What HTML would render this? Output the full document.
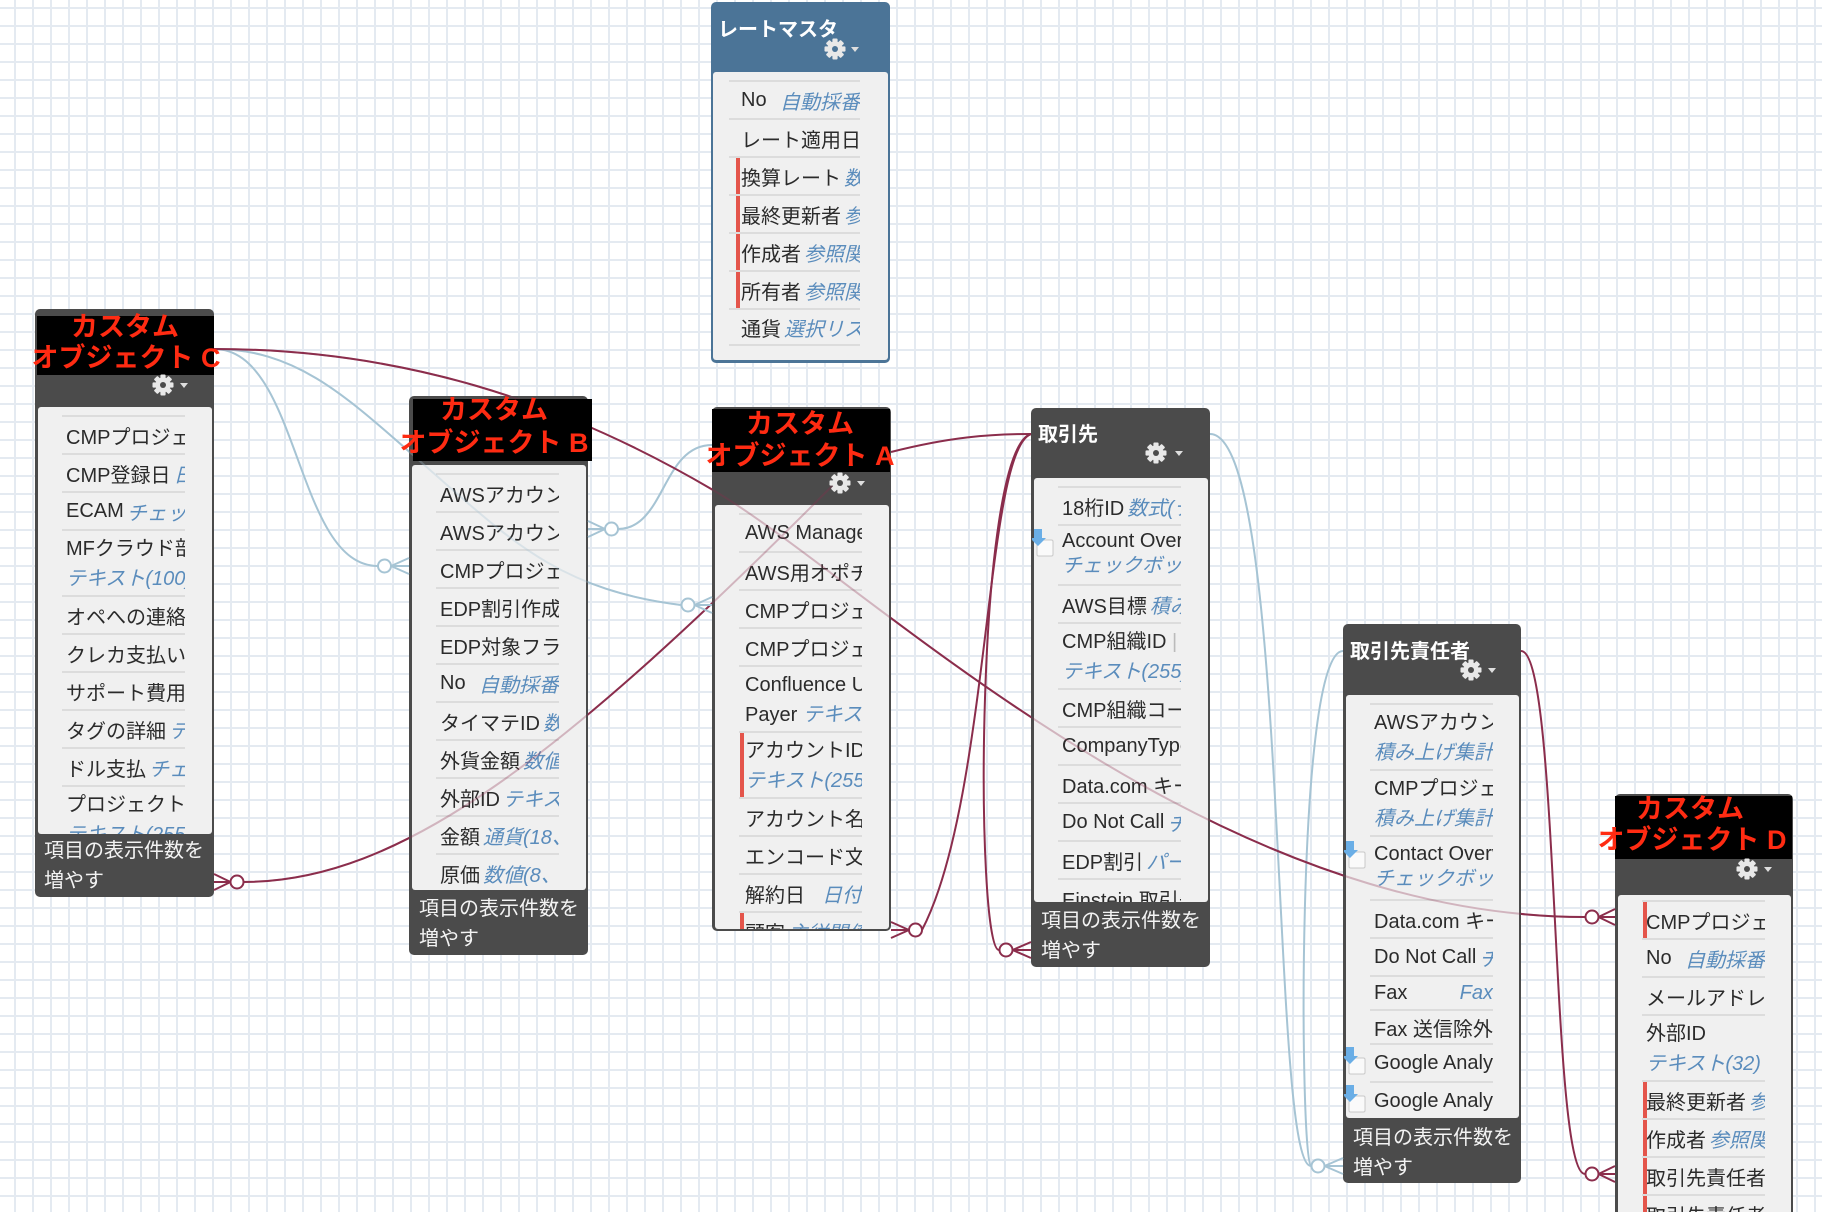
<!DOCTYPE html>
<html><head><meta charset="utf-8">
<style>
*{margin:0;padding:0;box-sizing:border-box}
html,body{width:1822px;height:1212px;overflow:hidden}
body{position:relative;font-family:"Liberation Sans","Noto Sans CJK JP",sans-serif;
background-color:#fff;
background-image:linear-gradient(to right,#e4eaf1 2px,transparent 2px),linear-gradient(to bottom,#e4eaf1 2px,transparent 2px);
background-size:18px 18px;background-position:14px 7px;}
svg.l{position:absolute;left:0;top:0;width:1822px;height:1212px}
.box{position:absolute;background:#4b4b4b;border-radius:5px;overflow:hidden;z-index:2}
.bd{position:absolute;left:3px;right:2px;background:#f0f0f0;border-radius:3px;overflow:hidden}
.rows{position:absolute;left:24px;top:8px;width:123px}
.r{position:relative;height:38px;border-top:2px solid #dcdcdc;display:flex;align-items:center;padding-left:4px;white-space:nowrap;overflow:hidden;font-size:20px;color:#2b2b2b}
.r .n{flex-shrink:0}
.r .t{margin-left:auto;padding-left:3px;flex-shrink:0}
.t{color:#5a8cbc;font-style:italic}
.r2{position:relative;height:66px;border-top:2px solid #dcdcdc;padding:3px 0 0 4px;white-space:nowrap;overflow:hidden;font-size:20px;line-height:30px;color:#2b2b2b}
.r3{position:relative;height:60px;border-top:2px solid #dcdcdc;padding:3px 0 0 4px;white-space:nowrap;overflow:hidden;font-size:20px;line-height:25px;color:#2b2b2b}
.r2 div,.r3 div{overflow:hidden}
.red::before{content:"";position:absolute;left:1px;top:0;bottom:0;width:4px;background:#e4554b}
.rm .red::before{left:7px}
.last{border-bottom:2px solid #dcdcdc}
.ft{position:absolute;left:0;right:0;color:#f3f3f3;font-size:20px;line-height:30px;padding-left:9px;white-space:nowrap}
.ttl{position:absolute;left:7px;color:#fff;font-weight:bold;font-size:20px;line-height:24px;white-space:nowrap}
.tri{position:absolute;width:0;height:0;border-left:4px solid transparent;border-right:4px solid transparent;border-top:5px solid #dedede;z-index:6}
.blk{position:absolute;background:#000;z-index:4}
.rt{position:absolute;color:#ff2b12;font-family:"Liberation Sans","Noto Sans CJK JP",sans-serif;font-weight:bold;font-size:27px;line-height:31px;text-align:center;white-space:nowrap;z-index:5}
.ico{position:absolute;z-index:6}
.A .r,.A .r2{padding-left:6px}
</style></head><body>

<svg class="l" style="z-index:1" viewBox="0 0 1822 1212" fill="none" stroke-width="2">
<g stroke="#a6c4d4">
<path d="M214,349 C300,349 295,566 378,566"/>
<path d="M214,349 C300,349 350,400 430,470 S560,590 681,605"/>
<path d="M618,529 C665,529 662,445 712,445"/>
<path d="M1210,434 C1290,434 1270,1166 1311,1166"/>
<path d="M1343,651 C1295,651 1300,1166 1311,1166"/>
</g>
<g stroke="#8b2d4c">
<path d="M214,349 C400,349 560,400 713,490 C866,580 1200,917 1585,917"/>
<path d="M243,882 C400,882 560,760 840,478"/>
<path d="M891,452 C950,437 990,434 1031,434"/>
<path d="M1031,434 C985,450 990,800 922,930"/>
<path d="M1031,434 C975,450 975,950 999,950"/>
<path d="M1521,651 C1560,651 1550,1174 1585,1174"/>
</g>
</svg>

<!-- レートマスタ -->
<div class="box rm" style="left:711px;top:2px;width:179px;height:361px;background:#4b7497">
  <div class="ttl" style="top:16px">レートマスタ</div>
  <div class="bd" style="top:70px;height:288px;left:2px;right:2px">
    <div class="rows" style="left:16px;width:131px;top:8px">
      <div class="r" style="padding-left:12px"><span class="n">No</span><span class="t">自動採番</span></div>
      <div class="r" style="padding-left:12px"><span class="n">レート適用日</span><span class="t">日付</span></div>
      <div class="r red" style="padding-left:12px"><span class="n">換算レート</span><span class="t">数値(18、6)</span></div>
      <div class="r red" style="padding-left:12px"><span class="n">最終更新者</span><span class="t">参照関係</span></div>
      <div class="r red" style="padding-left:12px"><span class="n">作成者</span><span class="t">参照関係</span></div>
      <div class="r red" style="padding-left:12px"><span class="n">所有者</span><span class="t">参照関係</span></div>
      <div class="r last" style="padding-left:12px"><span class="n">通貨</span><span class="t">選択リスト</span></div>
    </div>
  </div>
</div>

<!-- C -->
<div class="box" style="left:35px;top:309px;width:179px;height:588px">
  <div class="bd" style="top:98px;height:427px">
    <div class="rows">
      <div class="r"><span class="n">CMPプロジェクト</span></div>
      <div class="r"><span class="n">CMP登録日</span><span class="t">日付</span></div>
      <div class="r"><span class="n">ECAM</span><span class="t">チェックボックス</span></div>
      <div class="r2"><div>MFクラウド部門</div><div class="t">テキスト(100)</div></div>
      <div class="r"><span class="n">オペへの連絡事項</span></div>
      <div class="r"><span class="n">クレカ支払い</span></div>
      <div class="r"><span class="n">サポート費用</span></div>
      <div class="r"><span class="n">タグの詳細</span><span class="t">テキスト</span></div>
      <div class="r"><span class="n">ドル支払</span><span class="t">チェックボックス</span></div>
      <div class="r2"><div>プロジェクト</div><div class="t">テキスト(255)</div></div>
    </div>
  </div>
  <div class="ft" style="top:525px;height:63px;padding-top:2px">項目の表示件数を<br>増やす</div>
</div>

<!-- B -->
<div class="box" style="left:409px;top:396px;width:179px;height:559px">
  <div class="bd" style="top:69px;height:425px">
    <div class="rows">
      <div class="r"><span class="n">AWSアカウント</span></div>
      <div class="r"><span class="n">AWSアカウント</span></div>
      <div class="r"><span class="n">CMPプロジェクト</span></div>
      <div class="r"><span class="n">EDP割引作成日</span></div>
      <div class="r"><span class="n">EDP対象フラグ</span></div>
      <div class="r"><span class="n">No</span><span class="t">自動採番</span></div>
      <div class="r"><span class="n">タイマテID</span><span class="t">数値</span></div>
      <div class="r"><span class="n">外貨金額</span><span class="t">数値(18、2)</span></div>
      <div class="r"><span class="n">外部ID</span><span class="t">テキスト(255)</span></div>
      <div class="r"><span class="n">金額</span><span class="t">通貨(18、2)</span></div>
      <div class="r"><span class="n">原価</span><span class="t">数値(8、2)</span></div>
    </div>
  </div>
  <div class="ft" style="top:494px;height:65px;padding-top:4px;padding-left:10px">項目の表示件数を<br>増やす</div>
</div>

<!-- A -->
<div class="box A" style="left:712px;top:407px;width:179px;height:524px">
  <div class="bd" style="top:98px;height:424px">
    <div class="rows">
      <div class="r"><span class="n">AWS Management</span></div>
      <div class="r"><span class="n">AWS用オポチュニティ</span></div>
      <div class="r"><span class="n">CMPプロジェクト</span></div>
      <div class="r"><span class="n">CMPプロジェクト</span></div>
      <div class="r2"><div>Confluence URL</div><div>Payer <span class="t">テキスト(255)</span></div></div>
      <div class="r2 red"><div>アカウントID</div><div class="t">テキスト(255)</div></div>
      <div class="r"><span class="n">アカウント名</span></div>
      <div class="r"><span class="n">エンコード文字列</span></div>
      <div class="r"><span class="n">解約日</span><span class="t">日付</span></div>
      <div class="r red"><span class="n">顧客</span><span class="t">主従関係</span></div>
    </div>
  </div>
</div>

<!-- 取引先 -->
<div class="box" style="left:1031px;top:408px;width:179px;height:559px">
  <div class="ttl" style="top:15px">取引先</div>
  <div class="bd" style="top:70px;height:424px">
    <div class="rows">
      <div class="r"><span class="n">18桁ID</span><span class="t">数式(テキスト)</span></div>
      <div class="r3"><div>Account Overview</div><div class="t">チェックボックス</div></div>
      <div class="r"><span class="n">AWS目標</span><span class="t">積み上げ集計</span></div>
      <div class="r2"><div>CMP組織ID <span style="color:#bbb">|</span></div><div class="t">テキスト(255)</div></div>
      <div class="r"><span class="n">CMP組織コード</span></div>
      <div class="r"><span class="n">CompanyType</span></div>
      <div class="r"><span class="n">Data.com キー</span></div>
      <div class="r"><span class="n">Do Not Call</span><span class="t">チェックボックス</span></div>
      <div class="r"><span class="n">EDP割引</span><span class="t">パーセント</span></div>
      <div class="r"><span class="n">Einstein 取引先</span></div>
    </div>
  </div>
  <div class="ft" style="top:494px;height:65px;padding-top:4px;padding-left:10px">項目の表示件数を<br>増やす</div>
</div>

<!-- 取引先責任者 -->
<div class="box" style="left:1343px;top:624px;width:178px;height:559px">
  <div class="ttl" style="top:16px">取引先責任者</div>
  <div class="bd" style="top:71px;height:423px">
    <div class="rows">
      <div class="r2"><div>AWSアカウント</div><div class="t">積み上げ集計</div></div>
      <div class="r2"><div>CMPプロジェクト</div><div class="t">積み上げ集計</div></div>
      <div class="r3" style="height:64px;padding-top:5px"><div>Contact Overview</div><div class="t">チェックボックス</div></div>
      <div class="r"><span class="n">Data.com キー</span></div>
      <div class="r"><span class="n">Do Not Call</span><span class="t">チェックボックス</span></div>
      <div class="r" style="height:34px"><span class="n">Fax</span><span class="t">Fax</span></div>
      <div class="r" style="height:34px"><span class="n">Fax 送信除外</span></div>
      <div class="r"><span class="n">Google Analytics</span></div>
      <div class="r"><span class="n">Google Analytics</span></div>
    </div>
  </div>
  <div class="ft" style="top:494px;height:65px;padding-top:5px;padding-left:10px">項目の表示件数を<br>増やす</div>
</div>

<!-- D -->
<div class="box" style="left:1615px;top:794px;width:178px;height:440px">
  <div class="bd" style="top:101px;height:339px">
    <div class="rows" style="top:5px">
      <div class="r red"><span class="n">CMPプロジェクト</span></div>
      <div class="r"><span class="n">No</span><span class="t">自動採番</span></div>
      <div class="r"><span class="n">メールアドレス</span></div>
      <div class="r2"><div>外部ID</div><div class="t">テキスト(32)</div></div>
      <div class="r red"><span class="n">最終更新者</span><span class="t">参照関係</span></div>
      <div class="r red"><span class="n">作成者</span><span class="t">参照関係</span></div>
      <div class="r red"><span class="n">取引先責任者</span></div>
      <div class="r red"><span class="n">取引先責任者</span></div>
    </div>
  </div>
</div>

<!-- faint lines over boxes -->
<svg class="l" style="z-index:3;opacity:0.3" viewBox="0 0 1822 1212" fill="none" stroke-width="2">
<g stroke="#a6c4d4">
<path d="M214,349 C300,349 350,400 430,470 S560,590 681,605"/>
<path d="M618,529 C665,529 662,445 712,445"/>
</g>
<g stroke="#8b2d4c">
<path d="M214,349 C400,349 560,400 713,490 C866,580 1200,917 1585,917"/>
<path d="M243,882 C400,882 560,760 840,478"/>
</g>
</svg>

<!-- crow feet -->
<svg class="l" style="z-index:6" viewBox="0 0 1822 1212" fill="none" stroke-width="2">
<g stroke="#a6c4d4">
<circle cx="384.5" cy="566" r="6.5" fill="#fff"/><path d="M391,566 L409,558 M391,566 L409,566 M391,566 L409,574"/>
<circle cx="611.5" cy="529" r="6.5" fill="#fff"/><path d="M605,529 L588,521 M605,529 L588,529 M605,529 L588,537"/>
<circle cx="688" cy="605" r="6.5" fill="#fff"/><path d="M694.5,605 L712,597 M694.5,605 L712,605 M694.5,605 L712,613"/>
<circle cx="1318" cy="1166" r="6.5" fill="#fff"/><path d="M1324.5,1166 L1343,1158 M1324.5,1166 L1343,1166 M1324.5,1166 L1343,1174"/>
</g>
<g stroke="#8b2d4c">
<circle cx="237" cy="882" r="6.5" fill="#fff"/><path d="M230.5,882 L214,874 M230.5,882 L214,882 M230.5,882 L214,890"/>
<circle cx="915.5" cy="930" r="6.5" fill="#fff"/><path d="M909,930 L891,922 M909,930 L891,930 M909,930 L891,938"/>
<circle cx="1006" cy="950" r="6.5" fill="#fff"/><path d="M1012.5,950 L1031,942 M1012.5,950 L1031,950 M1012.5,950 L1031,958"/>
<circle cx="1592" cy="917" r="6.5" fill="#fff"/><path d="M1598.5,917 L1615,909 M1598.5,917 L1615,917 M1598.5,917 L1615,925"/>
<circle cx="1592" cy="1174" r="6.5" fill="#fff"/><path d="M1598.5,1174 L1615,1166 M1598.5,1174 L1615,1174 M1598.5,1174 L1615,1182"/>
</g>
</svg>

<!-- black labels -->
<div class="blk" style="left:37px;top:316px;width:177px;height:59px"></div>
<div class="rt" style="left:25px;top:312px;width:200px">カスタム</div>
<div class="rt" style="left:26px;top:343px;width:200px">オブジェクト C</div>

<div class="blk" style="left:413px;top:399px;width:179px;height:62px"></div>
<div class="rt" style="left:394px;top:395px;width:200px">カスタム</div>
<div class="rt" style="left:394px;top:428px;width:200px">オブジェクト B</div>

<div class="blk" style="left:712px;top:409px;width:178px;height:63px"></div>
<div class="rt" style="left:700px;top:409px;width:200px">カスタム</div>
<div class="rt" style="left:700px;top:441px;width:200px">オブジェクト A</div>

<div class="blk" style="left:1615px;top:796px;width:177px;height:63px"></div>
<div class="rt" style="left:1590px;top:794px;width:200px">カスタム</div>
<div class="rt" style="left:1592px;top:825px;width:200px">オブジェクト D</div>

<!-- gears -->
<svg class="ico" style="left:824px;top:38px" width="22" height="22" viewBox="-11 -11 22 22"><g fill="#e8e8e8"><circle r="7.5"/><rect x="-2.6" y="-10.5" width="5.2" height="21" rx="1"/><rect x="-2.6" y="-10.5" width="5.2" height="21" rx="1" transform="rotate(45)"/><rect x="-2.6" y="-10.5" width="5.2" height="21" rx="1" transform="rotate(90)"/><rect x="-2.6" y="-10.5" width="5.2" height="21" rx="1" transform="rotate(135)"/></g><circle r="3" fill="#4b7497"/></svg>
<div class="tri" style="left:851px;top:47px"></div>
<svg class="ico" style="left:152px;top:374px" width="22" height="22" viewBox="-11 -11 22 22"><g fill="#e8e8e8"><circle r="7.5"/><rect x="-2.6" y="-10.5" width="5.2" height="21" rx="1"/><rect x="-2.6" y="-10.5" width="5.2" height="21" rx="1" transform="rotate(45)"/><rect x="-2.6" y="-10.5" width="5.2" height="21" rx="1" transform="rotate(90)"/><rect x="-2.6" y="-10.5" width="5.2" height="21" rx="1" transform="rotate(135)"/></g><circle r="3" fill="#4b4b4b"/></svg>
<div class="tri" style="left:180px;top:383px"></div>
<svg class="ico" style="left:829px;top:472px" width="22" height="22" viewBox="-11 -11 22 22"><g fill="#e8e8e8"><circle r="7.5"/><rect x="-2.6" y="-10.5" width="5.2" height="21" rx="1"/><rect x="-2.6" y="-10.5" width="5.2" height="21" rx="1" transform="rotate(45)"/><rect x="-2.6" y="-10.5" width="5.2" height="21" rx="1" transform="rotate(90)"/><rect x="-2.6" y="-10.5" width="5.2" height="21" rx="1" transform="rotate(135)"/></g><circle r="3" fill="#4b4b4b"/></svg>
<div class="tri" style="left:857px;top:481px"></div>
<svg class="ico" style="left:1145px;top:442px" width="22" height="22" viewBox="-11 -11 22 22"><g fill="#e8e8e8"><circle r="7.5"/><rect x="-2.6" y="-10.5" width="5.2" height="21" rx="1"/><rect x="-2.6" y="-10.5" width="5.2" height="21" rx="1" transform="rotate(45)"/><rect x="-2.6" y="-10.5" width="5.2" height="21" rx="1" transform="rotate(90)"/><rect x="-2.6" y="-10.5" width="5.2" height="21" rx="1" transform="rotate(135)"/></g><circle r="3" fill="#4b4b4b"/></svg>
<div class="tri" style="left:1175px;top:451px"></div>
<svg class="ico" style="left:1460px;top:659px" width="22" height="22" viewBox="-11 -11 22 22"><g fill="#e8e8e8"><circle r="7.5"/><rect x="-2.6" y="-10.5" width="5.2" height="21" rx="1"/><rect x="-2.6" y="-10.5" width="5.2" height="21" rx="1" transform="rotate(45)"/><rect x="-2.6" y="-10.5" width="5.2" height="21" rx="1" transform="rotate(90)"/><rect x="-2.6" y="-10.5" width="5.2" height="21" rx="1" transform="rotate(135)"/></g><circle r="3" fill="#4b4b4b"/></svg>
<div class="tri" style="left:1488px;top:668px"></div>
<svg class="ico" style="left:1736px;top:858px" width="22" height="22" viewBox="-11 -11 22 22"><g fill="#e8e8e8"><circle r="7.5"/><rect x="-2.6" y="-10.5" width="5.2" height="21" rx="1"/><rect x="-2.6" y="-10.5" width="5.2" height="21" rx="1" transform="rotate(45)"/><rect x="-2.6" y="-10.5" width="5.2" height="21" rx="1" transform="rotate(90)"/><rect x="-2.6" y="-10.5" width="5.2" height="21" rx="1" transform="rotate(135)"/></g><circle r="3" fill="#4b4b4b"/></svg>
<div class="tri" style="left:1764px;top:867px"></div>

<!-- icons -->
<svg class="ico" style="left:1032px;top:529px" width="22" height="28" viewBox="0 0 22 28"><rect x="5" y="11" width="16" height="16" rx="1.5" fill="#fafafa" stroke="#c9c9c9"/><path d="M2 0h8v9h4l-8 8-8-8h4z" fill="#6aaee6"/></svg>
<svg class="ico" style="left:1344px;top:841px" width="22" height="28" viewBox="0 0 22 28"><rect x="5" y="11" width="16" height="16" rx="1.5" fill="#fafafa" stroke="#c9c9c9"/><path d="M2 0h8v9h4l-8 8-8-8h4z" fill="#6aaee6"/></svg>
<svg class="ico" style="left:1344px;top:1047px" width="22" height="28" viewBox="0 0 22 28"><rect x="5" y="11" width="16" height="16" rx="1.5" fill="#fafafa" stroke="#c9c9c9"/><path d="M2 0h8v9h4l-8 8-8-8h4z" fill="#6aaee6"/></svg>
<svg class="ico" style="left:1344px;top:1085px" width="22" height="28" viewBox="0 0 22 28"><rect x="5" y="11" width="16" height="16" rx="1.5" fill="#fafafa" stroke="#c9c9c9"/><path d="M2 0h8v9h4l-8 8-8-8h4z" fill="#6aaee6"/></svg>

</body></html>
